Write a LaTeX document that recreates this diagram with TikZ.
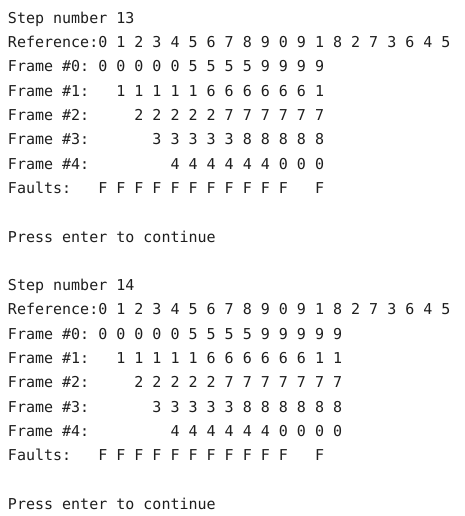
\documentclass[tikz,border=0pt]{standalone}
\usepackage{fontspec}
\setmonofont{DejaVu Sans Mono}
\definecolor{termtext}{HTML}{1E1E1E}
\tikzset{
  termline/.style={anchor=base west, inner sep=0pt, outer sep=0pt, text=termtext,
    font=\ttfamily\fontsize{15}{18}\selectfont}
}
\begin{document}
\begin{tikzpicture}[x=1pt,y=-1pt]
\useasboundingbox[fill=white] (0,0) rectangle (464,516);
\def\dy{24.3}
\def\xl{8}
% Step 13
\node[termline] (s13)  at (\xl,{23.3+0*\dy}) {Step~number~13};
\node[termline] (r13)  at (\xl,{23.3+1*\dy}) {Reference:0~1~2~3~4~5~6~7~8~9~0~9~1~8~2~7~3~6~4~5};
\node[termline] (f013) at (\xl,{23.3+2*\dy}) {Frame~\#0:~0~0~0~0~0~5~5~5~5~9~9~9~9};
\node[termline] (f113) at (\xl,{23.3+3*\dy}) {Frame~\#1:~~~1~1~1~1~1~6~6~6~6~6~6~1};
\node[termline] (f213) at (\xl,{23.3+4*\dy}) {Frame~\#2:~~~~~2~2~2~2~2~7~7~7~7~7~7};
\node[termline] (f313) at (\xl,{23.3+5*\dy}) {Frame~\#3:~~~~~~~3~3~3~3~3~8~8~8~8~8};
\node[termline] (f413) at (\xl,{23.3+6*\dy}) {Frame~\#4:~~~~~~~~~4~4~4~4~4~4~0~0~0};
\node[termline] (fa13) at (\xl,{23.3+7*\dy}) {Faults:~~~F~F~F~F~F~F~F~F~F~F~F~~~F};
\node[termline] (p13)  at (\xl,{23.3+9*\dy}) {Press~enter~to~continue};
% Step 14
\node[termline] (s14)  at (\xl,{23.3+11*\dy}) {Step~number~14};
\node[termline] (r14)  at (\xl,{23.3+12*\dy}) {Reference:0~1~2~3~4~5~6~7~8~9~0~9~1~8~2~7~3~6~4~5};
\node[termline] (f014) at (\xl,{23.3+13*\dy}) {Frame~\#0:~0~0~0~0~0~5~5~5~5~9~9~9~9~9};
\node[termline] (f114) at (\xl,{23.3+14*\dy}) {Frame~\#1:~~~1~1~1~1~1~6~6~6~6~6~6~1~1};
\node[termline] (f214) at (\xl,{23.3+15*\dy}) {Frame~\#2:~~~~~2~2~2~2~2~7~7~7~7~7~7~7};
\node[termline] (f314) at (\xl,{23.3+16*\dy}) {Frame~\#3:~~~~~~~3~3~3~3~3~8~8~8~8~8~8};
\node[termline] (f414) at (\xl,{23.3+17*\dy}) {Frame~\#4:~~~~~~~~~4~4~4~4~4~4~0~0~0~0};
\node[termline] (fa14) at (\xl,{23.3+18*\dy}) {Faults:~~~F~F~F~F~F~F~F~F~F~F~F~~~F};
\node[termline] (p14)  at (\xl,{23.3+20*\dy}) {Press~enter~to~continue};
\end{tikzpicture}
\end{document}
